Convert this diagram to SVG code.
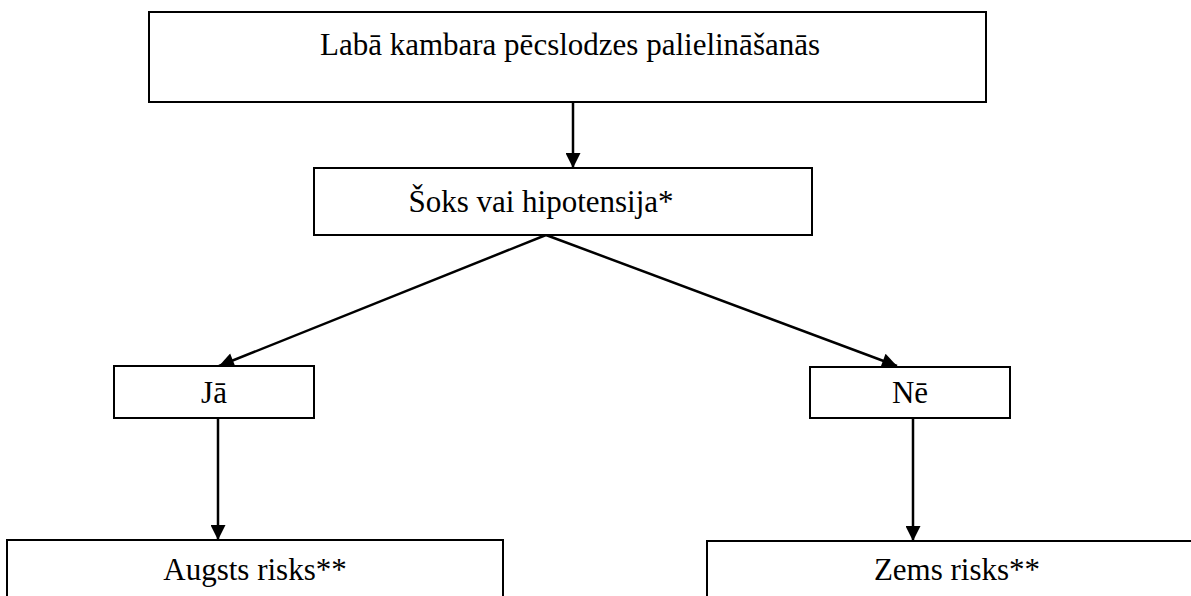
<svg xmlns="http://www.w3.org/2000/svg" width="1191" height="596" viewBox="0 0 1191 596">
  <style>
    .box { fill: #ffffff; stroke: #000000; stroke-width: 2; }
    .label { font-family: "Liberation Serif", "Times New Roman", "DejaVu Serif", serif; font-size: 31px; fill: #000000; text-anchor: middle; }
    .edge { stroke: #000000; stroke-width: 2.5; fill: none; marker-end: url(#arrow); }
  </style>
  <defs>
    <marker id="arrow" viewBox="0 0 10 10" refX="10" refY="5" markerWidth="6.4" markerHeight="6" markerUnits="strokeWidth" orient="auto">
      <path d="M0,0 L10,5 L0,10 Z" fill="#000000"/>
    </marker>
  </defs>
  <rect width="1191" height="596" fill="#ffffff"/>

  <g id="connectors">
    <line class="edge" x1="573" y1="101" x2="573" y2="168"/>
    <line class="edge" x1="546" y1="235" x2="219" y2="366"/>
    <line class="edge" x1="546" y1="235" x2="897" y2="366"/>
    <line class="edge" x1="218" y1="418" x2="218" y2="540"/>
    <line class="edge" x1="913" y1="418" x2="913" y2="541"/>
  </g>

  <g id="node-rv-afterload">
    <rect class="box" x="149" y="12" width="837" height="90"/>
    <text class="label" font-family="Liberation Serif, serif" x="570" y="55">Labā kambara pēcslodzes palielināšanās</text>
  </g>

  <g id="node-shock">
    <rect class="box" x="314" y="168" width="498" height="67"/>
    <text class="label" font-family="Liberation Serif, serif" x="541" y="212">Šoks vai hipotensija*</text>
  </g>

  <g id="node-yes">
    <rect class="box" x="114" y="366" width="200" height="52"/>
    <text class="label" font-family="Liberation Serif, serif" x="214" y="403">Jā</text>
  </g>

  <g id="node-no">
    <rect class="box" x="810" y="367" width="200" height="51"/>
    <text class="label" font-family="Liberation Serif, serif" x="910" y="403">Nē</text>
  </g>

  <g id="node-high-risk">
    <rect class="box" x="7" y="540" width="496" height="80"/>
    <text class="label" font-family="Liberation Serif, serif" x="255" y="580">Augsts risks**</text>
  </g>

  <g id="node-low-risk">
    <rect class="box" x="707" y="541" width="500" height="80"/>
    <text class="label" font-family="Liberation Serif, serif" x="957" y="580">Zems risks**</text>
  </g>
</svg>
